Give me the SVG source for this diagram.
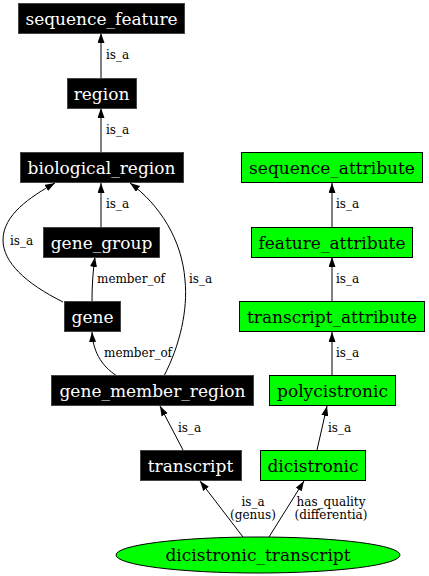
<svg xmlns="http://www.w3.org/2000/svg" width="429" height="576" viewBox="0 0 429 576">
<defs>
<marker id="arr" markerUnits="userSpaceOnUse" markerWidth="10" markerHeight="8" refX="10" refY="3.5" orient="auto">
<path d="M0,0 L10,3.5 L0,7 z" fill="#000"/>
</marker>
<style>
.bk rect{fill:#000;stroke:#444;stroke-width:1}
.gr rect,.gr ellipse{fill:#00ff00;stroke:#000;stroke-width:1}
.bk text{fill:#fff}
.n text{font-family:"DejaVu Serif",serif;font-size:17px;text-anchor:middle;dominant-baseline:central}
.gr text{fill:#000}
#edges path{fill:none;stroke:#000;stroke-width:1;marker-end:url(#arr)}
#edges text{font-family:"DejaVu Serif",serif;font-size:12px;fill:#000}
</style>
</defs>
<rect width="429" height="576" fill="#fff"/>
<g id="edges">
<path d="M101,78 L101,33"/><text x="106" y="59">is_a</text>
<path d="M101,152 L101,108"/><text x="106" y="134">is_a</text>
<path d="M101,227 L101,183"/><text x="106" y="208">is_a</text>
<path d="M63,302 C25,283 3,262 3,240 C3,215 30,197 55,183"/><text x="10" y="245">is_a</text>
<path d="M92,301 C92,285 93,270 95,257"/><text x="97" y="283">member_of</text>
<path d="M117,376 C100,365 93,350 92,332"/><text x="104" y="357">member_of</text>
<path d="M164,376 C180,345 188,310 185,280 C182,240 160,205 130,183"/><text x="189" y="283">is_a</text>
<path d="M183,450 L160,406"/><text x="178" y="432">is_a</text>
<path d="M243,537 L200,481"/><text x="253" y="506" text-anchor="middle">is_a</text><text x="253" y="519" text-anchor="middle">(genus)</text>
<path d="M269,537 L304,481"/><text x="331" y="506" text-anchor="middle">has_quality</text><text x="331" y="519" text-anchor="middle">(differentia)</text>
<path d="M317,450 L327,406"/><text x="328" y="432">is_a</text>
<path d="M332,375 L332,332"/><text x="336" y="357">is_a</text>
<path d="M332,301 L332,257"/><text x="336" y="283">is_a</text>
<path d="M332,227 L332,183"/><text x="336" y="208">is_a</text>
</g>
<g id="sequence_feature" class="n bk"><rect x="18.5" y="3.5" width="166" height="30"/><text x="101.5" y="18.5">sequence_feature</text></g>
<g id="region" class="n bk"><rect x="67.5" y="78.5" width="69" height="30"/><text x="101.5" y="93.5">region</text></g>
<g id="biological_region" class="n bk"><rect x="20.5" y="152.5" width="163" height="30"/><text x="101.5" y="167.5">biological_region</text></g>
<g id="gene_group" class="n bk"><rect x="43.5" y="227.5" width="116" height="30"/><text x="101.5" y="242.5">gene_group</text></g>
<g id="gene" class="n bk"><rect x="64.5" y="301.5" width="56" height="30"/><text x="92.5" y="316.5">gene</text></g>
<g id="gene_member_region" class="n bk"><rect x="51.5" y="375.5" width="202" height="30"/><text x="152.5" y="390.5">gene_member_region</text></g>
<g id="transcript" class="n bk"><rect x="140.5" y="450.5" width="101" height="30"/><text x="190.5" y="465.5">transcript</text></g>
<g id="dicistronic" class="n gr"><rect x="260.5" y="450.5" width="105" height="30"/><text x="313" y="465.5">dicistronic</text></g>
<g id="polycistronic" class="n gr"><rect x="269.5" y="375.5" width="126" height="30"/><text x="332.5" y="390.5">polycistronic</text></g>
<g id="transcript_attribute" class="n gr"><rect x="239.5" y="301.5" width="185" height="30"/><text x="332" y="316.5">transcript_attribute</text></g>
<g id="feature_attribute" class="n gr"><rect x="251.5" y="227.5" width="161" height="30"/><text x="332" y="242.5">feature_attribute</text></g>
<g id="sequence_attribute" class="n gr"><rect x="241.5" y="152.5" width="181" height="30"/><text x="332" y="167.5">sequence_attribute</text></g>
<g id="dicistronic_transcript" class="n gr"><ellipse cx="258" cy="555" rx="142" ry="18"/><text x="258" y="555">dicistronic_transcript</text></g>
</svg>
